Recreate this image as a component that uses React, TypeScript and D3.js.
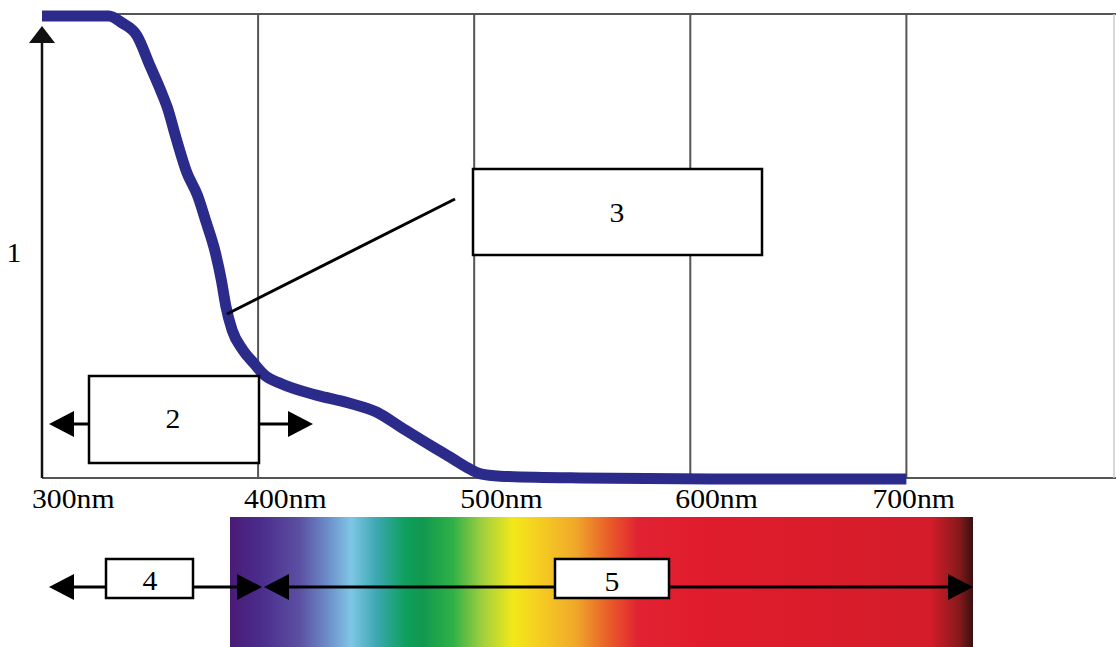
import * as d3 from "d3";
import React, { useRef, useEffect } from "react";

const width = 1116,
  height = 647;

// absorbance curve (wavelength nm, relative absorbance)
const wavelengths = [
  300, 331, 337, 344, 350, 355, 358, 362, 367, 372, 376, 380, 383, 385, 388,
  393, 398, 403, 411, 427, 442, 455, 466, 481, 489, 497, 503, 512, 549, 610, 700,
];
const absorbance = [
  0.998, 0.998, 0.983, 0.955, 0.89, 0.836, 0.8, 0.735, 0.66, 0.61, 0.552,
  0.491, 0.427, 0.373, 0.319, 0.276, 0.248, 0.222, 0.203, 0.179, 0.162, 0.142,
  0.11, 0.067, 0.045, 0.022, 0.009, 0.004, 0.0, -0.002, -0.002,
];
const tickValues = [300, 400, 500, 600, 700];
const tickLabels = ["300nm", "400nm", "500nm", "600nm", "700nm"];

// spectrum colours along the bar (nm -> colour)
const spectrumNm = [387, 401, 419, 432, 443, 455, 468, 476, 490, 504, 518, 529, 547, 563, 576, 595, 609, 711, 724, 731];
const spectrumColors = [
  "#4a1b76", "#4b2c8c", "#5b4fa2", "#6c8cc8", "#7fc6e6", "#3ba8b0", "#0f9f5e",
  "#11984f", "#2fb048", "#a2d03e", "#f2e818", "#f5d020", "#f0a82a", "#e85a28",
  "#e02232", "#e21e2e", "#e01c2c", "#d41c2a", "#8a1a1c", "#3a1010",
];

const numberLabels = ["1", "2", "3", "4", "5"];

function App() {
  const ref = useRef(null);

  useEffect(() => {
    const svg = d3.select(ref.current);
    svg.selectAll("*").remove();
    draw(svg);
  }, []);

  const draw = (svg) => {
    const x = d3.scaleLinear().domain([300, 797]).range([42, 1116]);
    const y = d3.scaleLinear().domain([0, 1]).range([478, 15]);
    const font = "'Liberation Serif', 'Times New Roman', Times, serif";

    const txt = (s, tx, ty, anchor = "middle") => {
      svg
        .append("g")
        .attr("transform", `translate(${tx},${ty}) scale(1.1,1)`)
        .append("text")
        .attr("text-anchor", anchor)
        .style("font-family", font)
        .style("font-size", "27px")
        .attr("fill", "#000")
        .text(s);
    };

    // frame: top, bottom, right
    svg.append("line").attr("x1", x(300)).attr("x2", width).attr("y1", 14).attr("y2", 14)
      .attr("stroke", "#555").attr("stroke-width", 2);
    svg.append("line").attr("x1", x(300)).attr("x2", width).attr("y1", 478).attr("y2", 478)
      .attr("stroke", "#555").attr("stroke-width", 2);
    svg.append("line").attr("x1", 1114).attr("x2", 1114).attr("y1", 14).attr("y2", 478)
      .attr("stroke", "#ccc").attr("stroke-width", 1.5);

    // vertical gridlines
    svg.selectAll(".grid")
      .data(tickValues.slice(1))
      .enter()
      .append("line")
      .attr("x1", (d) => x(d)).attr("x2", (d) => x(d))
      .attr("y1", 14).attr("y2", 478)
      .attr("stroke", "#555").attr("stroke-width", 2);

    // y axis with arrow
    svg.append("line").attr("x1", x(300)).attr("x2", x(300)).attr("y1", 478).attr("y2", 36)
      .attr("stroke", "#111").attr("stroke-width", 2.5);
    svg.append("path")
      .attr("d", `M${x(300) - 13},43 L${x(300)},26 L${x(300) + 13},43 Z`)
      .attr("fill", "#111");

    // tick labels
    const nudge = [-10, -14, -14, -15, -34];
    tickValues.forEach((v, i) => txt(tickLabels[i], x(v) + nudge[i], 508, "start"));

    // absorbance curve
    const pts = wavelengths.map((w, i) => [w, absorbance[i]]);
    const line = d3.line()
      .x((d) => x(d[0]))
      .y((d) => y(d[1]))
      .curve(d3.curveMonotoneX);
    svg.append("path")
      .attr("d", line(pts))
      .attr("fill", "none")
      .attr("stroke", "#2b2b8c")
      .attr("stroke-width", 11)
      .attr("stroke-linejoin", "round");

    // spectrum bar
    const x0 = 230, x1 = 973;
    const grad = svg.append("defs").append("linearGradient")
      .attr("id", "spec").attr("x1", "0%").attr("x2", "100%");
    spectrumNm.forEach((nm, i) => {
      grad.append("stop")
        .attr("offset", `${((x(nm) - x0) / (x1 - x0)) * 100}%`)
        .attr("stop-color", spectrumColors[i]);
    });
    svg.append("rect").attr("x", x0).attr("y", 517).attr("width", x1 - x0).attr("height", 130)
      .attr("fill", "url(#spec)");

    const arrowHead = (tip, ay, dir) => {
      svg.append("path")
        .attr("d", `M${tip},${ay} L${tip - dir * 25},${ay - 13} L${tip - dir * 25},${ay + 13} Z`)
        .attr("fill", "#000");
    };
    const hline = (a, b, ay) =>
      svg.append("line").attr("x1", a).attr("x2", b).attr("y1", ay).attr("y2", ay)
        .attr("stroke", "#000").attr("stroke-width", 3);
    const box = (bx, by, bw, bh) =>
      svg.append("rect").attr("x", bx).attr("y", by).attr("width", bw).attr("height", bh)
        .attr("fill", "#fff").attr("stroke", "#000").attr("stroke-width", 2.5);

    // label 1
    txt(numberLabels[0], 14, 262);

    // label 2: box with arrows
    hline(60, 300, 424);
    arrowHead(49, 424, -1);
    arrowHead(313, 424, 1);
    box(89, 376, 170, 87);
    txt(numberLabels[1], 173, 428);

    // label 3: box with leader line
    svg.append("line").attr("x1", 455).attr("y1", 199).attr("x2", 227).attr("y2", 314)
      .attr("stroke", "#000").attr("stroke-width", 3);
    box(473, 169, 289, 86);
    txt(numberLabels[2], 617, 222);

    // label 4 and 5 arrows under the spectrum
    hline(60, 250, 587);
    arrowHead(49, 587, -1);
    arrowHead(262, 587, 1);
    box(106, 559, 87, 39);
    txt(numberLabels[3], 150, 590);

    hline(278, 960, 587);
    arrowHead(264, 587, -1);
    arrowHead(973, 587, 1);
    box(555, 559, 114, 39);
    txt(numberLabels[4], 612, 591);
  };

  return (
    <div>
      <svg
        ref={ref}
        width={width}
        height={height}
        style={{ position: "absolute", left: 0, top: 0, background: "#fff" }}
      ></svg>
    </div>
  );
}

export default App;
